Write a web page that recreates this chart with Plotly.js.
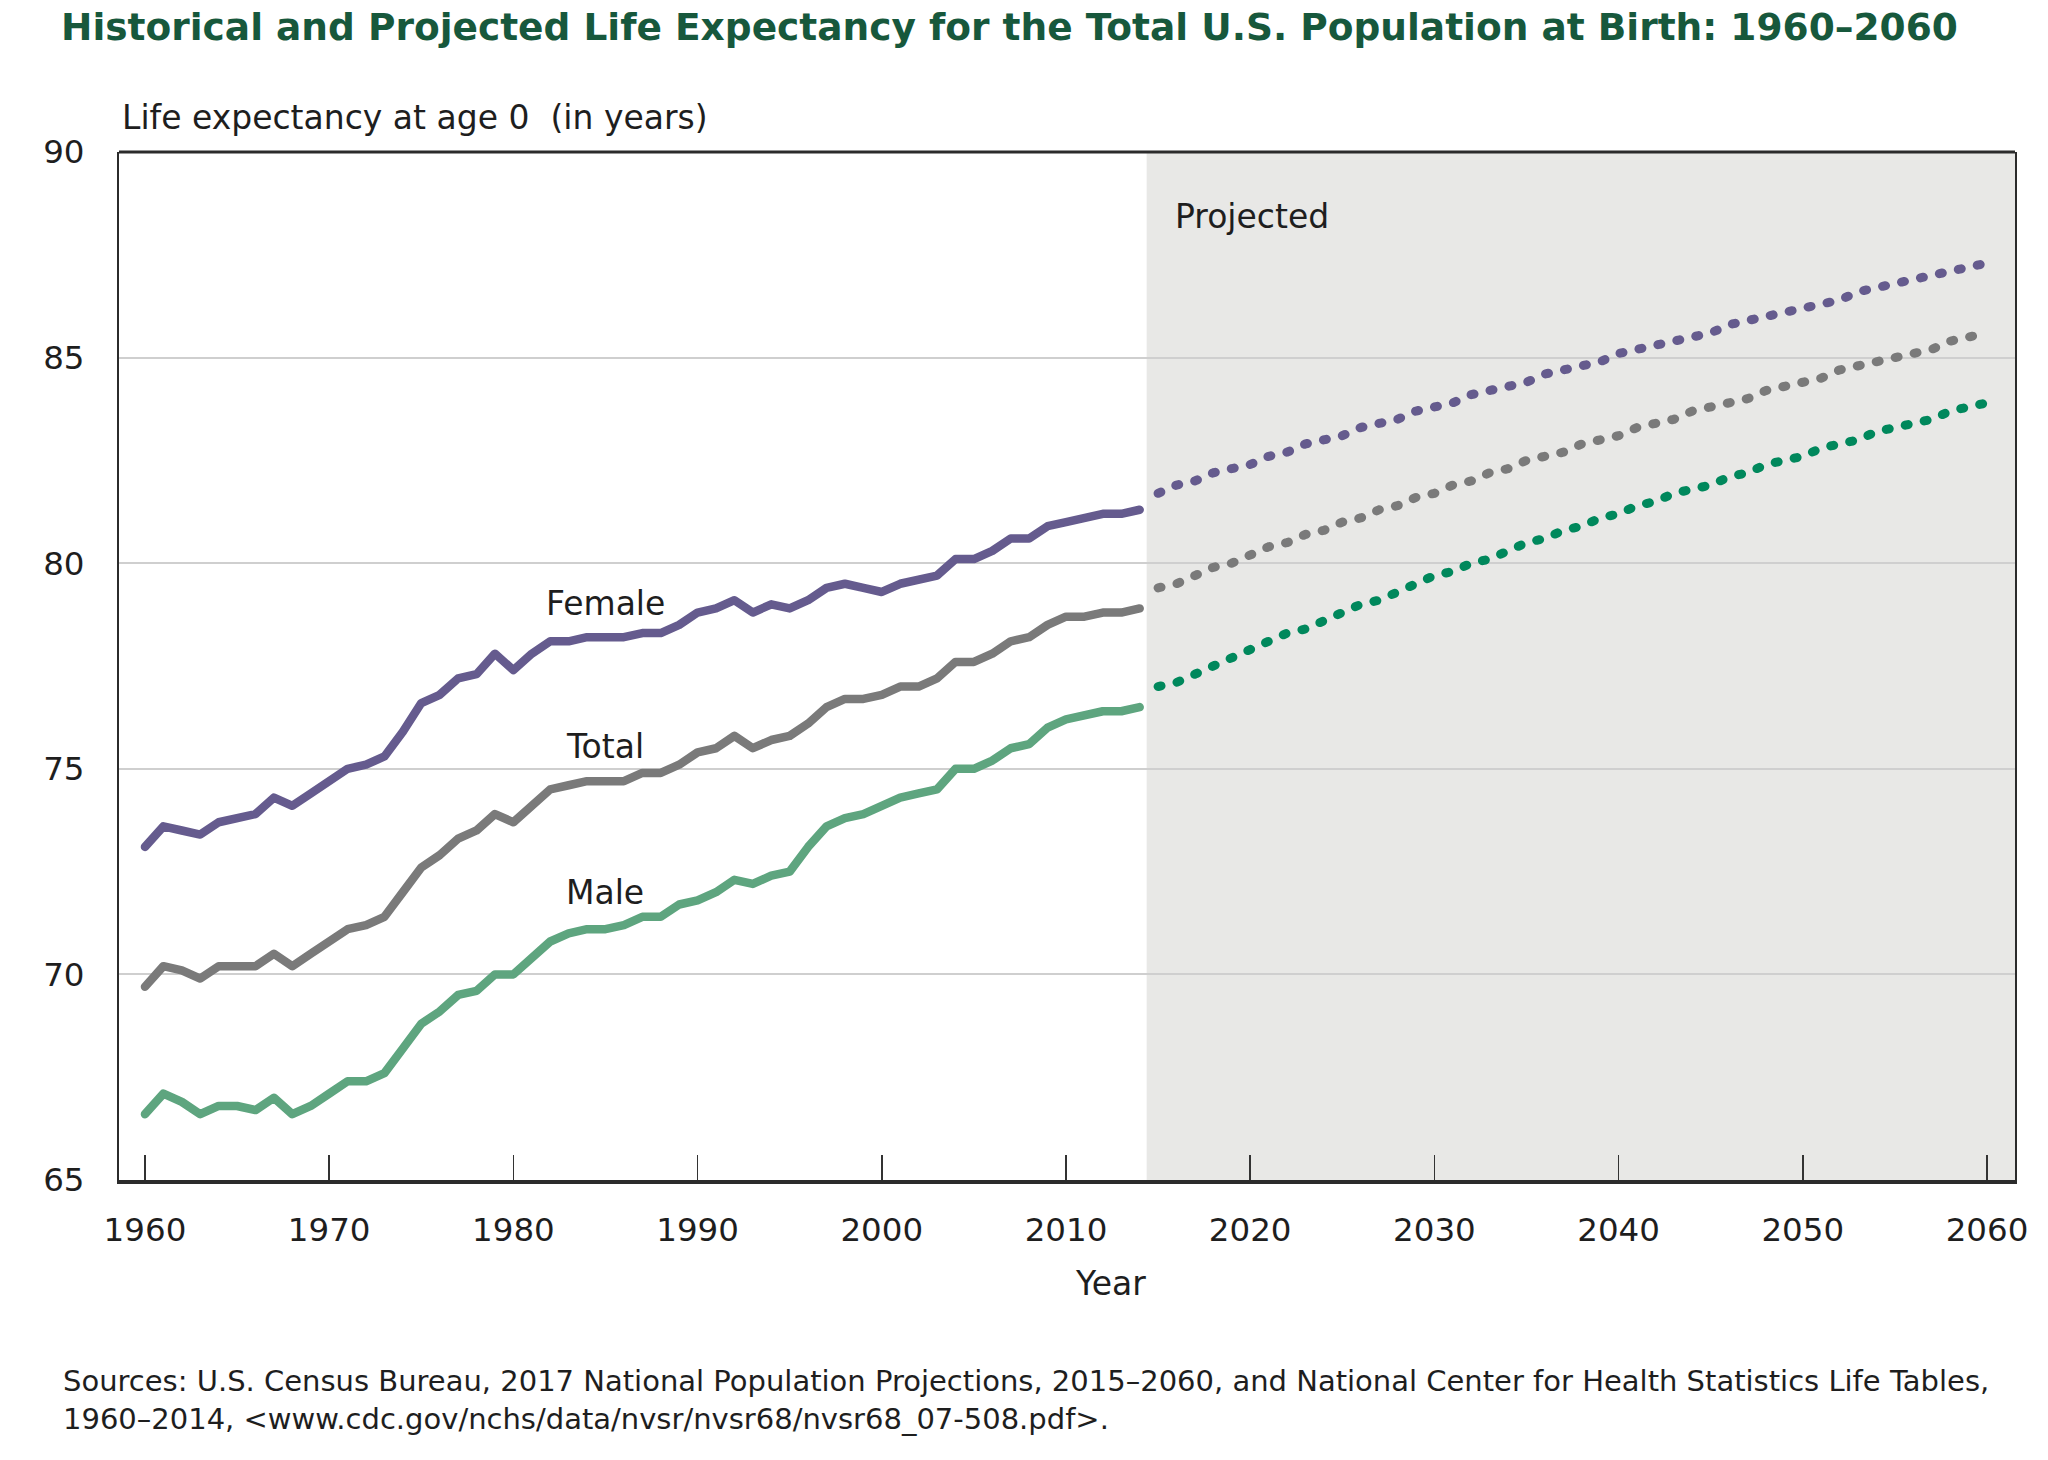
<!DOCTYPE html>
<html>
<head>
<meta charset="utf-8">
<script src="https://cdn.plot.ly/plotly-3.0.1.min.js"></script>
<style>
  html, body { margin: 0; padding: 0; background: #fff; }
  #chart { width: 2048px; height: 1460px; }
  .js-line { stroke-linecap: round !important; stroke-linejoin: round !important; }
</style>
</head>
<body>
<div id="chart"></div>
<script>
// ---- Data ----
const histStart = 1960, histEnd = 2014;
const projStart = 2015, projEnd = 2060;
const histYears = Array.from({length: histEnd - histStart + 1}, (_, i) => histStart + i);
const projYears = Array.from({length: projEnd - projStart + 1}, (_, i) => projStart + i);

const femaleHist = [73.1,73.6,73.5,73.4,73.7,73.8,73.9,74.3,74.1,74.4,
                    74.7,75.0,75.1,75.3,75.9,76.6,76.8,77.2,77.3,77.8,
                    77.4,77.8,78.1,78.1,78.2,78.2,78.2,78.3,78.3,78.5,
                    78.8,78.9,79.1,78.8,79.0,78.9,79.1,79.4,79.5,79.4,
                    79.3,79.5,79.6,79.7,80.1,80.1,80.3,80.6,80.6,80.9,
                    81.0,81.1,81.2,81.2,81.3];
const totalHist  = [69.7,70.2,70.1,69.9,70.2,70.2,70.2,70.5,70.2,70.5,
                    70.8,71.1,71.2,71.4,72.0,72.6,72.9,73.3,73.5,73.9,
                    73.7,74.1,74.5,74.6,74.7,74.7,74.7,74.9,74.9,75.1,
                    75.4,75.5,75.8,75.5,75.7,75.8,76.1,76.5,76.7,76.7,
                    76.8,77.0,77.0,77.2,77.6,77.6,77.8,78.1,78.2,78.5,
                    78.7,78.7,78.8,78.8,78.9];
const maleHist   = [66.6,67.1,66.9,66.6,66.8,66.8,66.7,67.0,66.6,66.8,
                    67.1,67.4,67.4,67.6,68.2,68.8,69.1,69.5,69.6,70.0,
                    70.0,70.4,70.8,71.0,71.1,71.1,71.2,71.4,71.4,71.7,
                    71.8,72.0,72.3,72.2,72.4,72.5,73.1,73.6,73.8,73.9,
                    74.1,74.3,74.4,74.5,75.0,75.0,75.2,75.5,75.6,76.0,
                    76.2,76.3,76.4,76.4,76.5];

const femaleProj = [81.7,81.9,82.0,82.2,82.3,82.4,82.6,82.7,82.9,83.0,
                    83.1,83.3,83.4,83.5,83.7,83.8,83.9,84.1,84.2,84.3,
                    84.4,84.6,84.7,84.8,84.9,85.1,85.2,85.3,85.4,85.5,
                    85.6,85.8,85.9,86.0,86.1,86.2,86.3,86.4,86.6,86.7,
                    86.8,86.9,87.0,87.1,87.2,87.3];
const totalProj  = [79.4,79.5,79.7,79.9,80.0,80.2,80.4,80.5,80.7,80.8,
                    81.0,81.1,81.3,81.4,81.6,81.7,81.9,82.0,82.2,82.3,
                    82.5,82.6,82.7,82.9,83.0,83.1,83.3,83.4,83.5,83.7,
                    83.8,83.9,84.0,84.2,84.3,84.4,84.5,84.7,84.8,84.9,
                    85.0,85.1,85.2,85.4,85.5,85.6];
const maleProj   = [77.0,77.1,77.3,77.5,77.7,77.9,78.1,78.3,78.4,78.6,
                    78.8,79.0,79.1,79.3,79.5,79.7,79.8,80.0,80.1,80.3,
                    80.5,80.6,80.8,80.9,81.1,81.2,81.4,81.5,81.7,81.8,
                    81.9,82.1,82.2,82.4,82.5,82.6,82.8,82.9,83.0,83.2,
                    83.3,83.4,83.5,83.7,83.8,83.9];

const xTicks = [1960,1970,1980,1990,2000,2010,2020,2030,2040,2050,2060];
const yTicks = [65,70,75,80,85,90];

// ---- Styles ----
const cFemale = '#655b8e', cTotal = '#7a7a7a', cMaleHist = '#5ea57f', cMaleProj = '#00885c';
const font = '"DejaVu Sans", "Open Sans", sans-serif';
const solidW = 8.5, dotW = 9, dotDash = '3px,16.4px';

const traces = [
  {x: histYears, y: femaleHist, mode: 'lines', line: {color: cFemale, width: solidW}},
  {x: histYears, y: totalHist,  mode: 'lines', line: {color: cTotal, width: solidW}},
  {x: histYears, y: maleHist,   mode: 'lines', line: {color: cMaleHist, width: solidW}},
  {x: projYears, y: femaleProj, mode: 'lines', line: {color: cFemale, width: dotW, dash: dotDash}},
  {x: projYears, y: totalProj,  mode: 'lines', line: {color: cTotal, width: dotW, dash: dotDash}},
  {x: projYears, y: maleProj,   mode: 'lines', line: {color: cMaleProj, width: dotW, dash: dotDash}}
];

const xRange = [1958.59, 2061.52];
const layout = {
  width: 2048, height: 1460,
  margin: {l: 119, r: 33, t: 152, b: 280},
  paper_bgcolor: '#ffffff', plot_bgcolor: '#ffffff',
  showlegend: false,
  font: {family: font, color: '#1e1e1e'},
  title: {
    text: 'Historical and Projected Life Expectancy for the Total U.S. Population at Birth: 1960–2060',
    font: {family: font, size: 37.5, color: '#17583c', weight: 'bold'},
    xref: 'container', x: 61 / 2048, xanchor: 'left',
    yref: 'container', y: 1 - 27 / 1460, yanchor: 'middle'
  },
  xaxis: {
    range: xRange, tickvals: xTicks, ticktext: xTicks.map(String),
    ticks: 'inside', ticklen: 25, tickwidth: 1.5, tickcolor: '#333',
    showline: true, linecolor: '#2b2b2b', linewidth: 4, mirror: false,
    showgrid: false, zeroline: false,
    tickfont: {family: font, size: 32.5, color: '#1e1e1e'},
    ticklabelstandoff: 18
  },
  yaxis: {
    range: [65, 90], tickvals: yTicks,
    ticks: '', showline: true, linecolor: '#2b2b2b', linewidth: 2, mirror: true,
    showgrid: true, gridcolor: '#cfcfcf', gridwidth: 2, zeroline: false,
    tickfont: {family: font, size: 32.5, color: '#1e1e1e'},
    ticklabelstandoff: 26
  },
  shapes: [
    {type: 'rect', xref: 'x', yref: 'paper', x0: 2014.38, x1: xRange[1], y0: 0, y1: 1,
     fillcolor: '#e8e8e6', line: {width: 0}, layer: 'below'},
    {type: 'line', xref: 'paper', yref: 'paper', x0: 0, x1: 1, y0: 1, y1: 1,
     line: {color: '#2b2b2b', width: 3}, layer: 'above'}
  ],
  annotations: [
    {text: 'Life expectancy at age 0\u00a0\u00a0(in years)', xref: 'paper', yref: 'paper',
     x: 0.0005, y: (1180 - 118) / 1028, xanchor: 'left', yanchor: 'middle', showarrow: false,
     font: {family: font, size: 33, color: '#1e1e1e'}},
    {text: 'Female', xref: 'x', yref: 'y', x: 1985.0, y: 79.03, showarrow: false,
     xanchor: 'center', yanchor: 'middle', font: {family: font, size: 33, color: '#1e1e1e'}},
    {text: 'Total', xref: 'x', yref: 'y', x: 1985.0, y: 75.55, showarrow: false,
     xanchor: 'center', yanchor: 'middle', font: {family: font, size: 33, color: '#1e1e1e'}},
    {text: 'Male', xref: 'x', yref: 'y', x: 1985.0, y: 72.0, showarrow: false,
     xanchor: 'center', yanchor: 'middle', font: {family: font, size: 33, color: '#1e1e1e'}},
    {text: 'Projected', xref: 'x', yref: 'y', x: 2015.8, y: 88.42, showarrow: false,
     xanchor: 'left', yanchor: 'middle', font: {family: font, size: 33, color: '#1e1e1e'}},
    {text: 'Year', xref: 'paper', yref: 'paper', x: (1110 - 119) / 1896, y: (1180 - 1283) / 1028,
     xanchor: 'center', yanchor: 'middle', showarrow: false,
     font: {family: font, size: 33, color: '#1e1e1e'}},
    {text: 'Sources: U.S. Census Bureau, 2017 National Population Projections, 2015–2060, and National Center for Health Statistics Life Tables,<br>1960–2014, &lt;www.cdc.gov/nchs/data/nvsr/nvsr68/nvsr68_07-508.pdf&gt;.',
     xref: 'paper', yref: 'paper', x: (61 - 119) / 1896, y: (1180 - 1400) / 1028,
     xanchor: 'left', yanchor: 'middle', align: 'left', showarrow: false,
     font: {family: font, size: 29, color: '#1e1e1e'}}
  ]
};

Plotly.newPlot('chart', traces, layout, {displayModeBar: false, staticPlot: true});
</script>
</body>
</html>
